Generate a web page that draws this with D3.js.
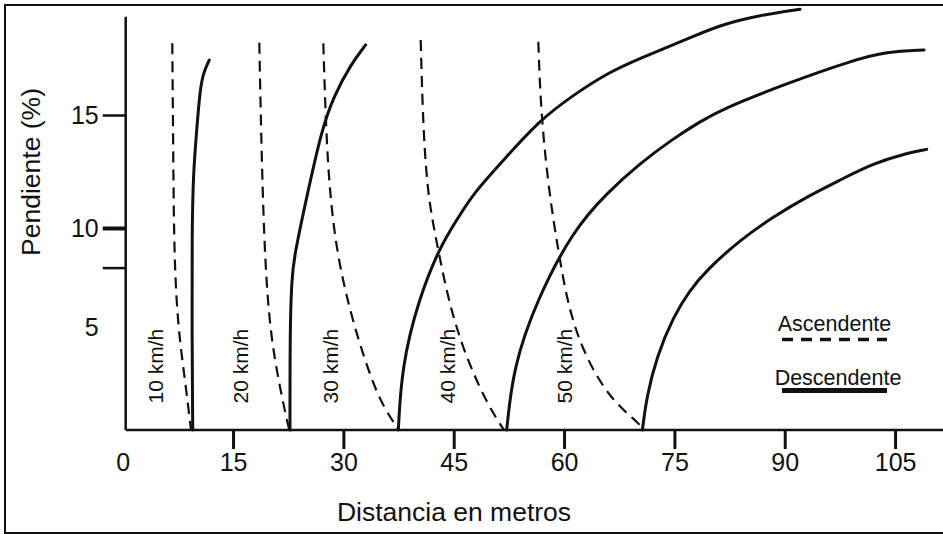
<!DOCTYPE html>
<html>
<head>
<meta charset="utf-8">
<script src="https://cdn.jsdelivr.net/npm/d3@7"></script>
<style>
  html, body { margin: 0; padding: 0; background: #fff; }
  svg { display: block; font-family: "Liberation Sans", Arial, Helvetica, sans-serif; }
</style>
</head>
<body>
<svg id="chart" width="943" height="534"></svg>
<script>
// ---------------- DATA ----------------
const speeds = ["10 km/h", "20 km/h", "30 km/h", "40 km/h", "50 km/h"];
const xTickValues = [0, 15, 30, 45, 60, 75, 90, 105];
const yTickLabels = [5, 10, 15];
const yTickMarks = [8, 10, 15];

// Ascendente (dashed): [distancia (m), pendiente (%)]
const asc10 = [[6.74,18.17],[6.88,12.88],[7.01,8.23],[7.56,4.85],[8.47,2.43],[9.24,0.16],[9.28,0]];
const asc20 = [[18.57,18.2],[18.90,12.88],[19.35,8.23],[20.03,4.85],[21.15,2.43],[22.51,0.16],[22.68,0]];
const asc30 = [[27.27,18.17],[27.64,14.34],[28.18,11.37],[29.31,8.23],[31.58,4.85],[33.85,2.43],[35.43,1.13],[37.25,0.16],[37.36,0]];
const asc40 = [[40.51,18.32],[40.86,14.2],[41.54,11.24],[42.90,8.89],[44.26,6.36],[46.30,3.88],[49.25,1.46],[51.52,0.16],[51.84,0]];
const asc50 = [[56.50,18.24],[56.87,14.92],[58.09,11.24],[59.22,8.89],[60.36,6.36],[62.40,3.88],[66.25,1.46],[70.56,0.24],[70.6,0]];

// Descendente (solid)
const desc10 = [[9.52,0],[9.42,4.85],[9.42,9.90],[9.60,12.43],[10.06,14.34],[10.51,16.11],[10.96,16.86],[11.77,17.43]];
const desc20 = [[22.74,0],[22.74,4.85],[22.97,7.37],[23.29,8.54],[25.01,11.37],[27.05,14.34],[28.63,15.80],[31.13,17.30],[33.03,18.10]];
const desc30 = [[37.47,0],[37.93,3.07],[40.18,6.36],[43.13,9.06],[45.41,10.35],[47.66,11.54],[52.20,13.16],[56.73,14.78],[61.26,15.88],[65.80,16.84],[70.32,17.51],[77.12,18.41],[81.20,18.98],[86.64,19.42],[92.08,19.68]];
const desc40 = [[52.20,0],[53.10,3.07],[56.28,6.36],[61.26,9.90],[65.80,11.54],[70.32,12.86],[74.85,13.96],[78.48,14.70],[81.20,15.22],[90.27,16.40],[99.32,17.43],[103.86,17.80],[108.93,17.88]];
const desc50 = [[70.65,0],[71.23,1.62],[72.59,3.56],[74.85,5.52],[77.12,6.87],[79.39,7.88],[83.92,9.39],[88.45,10.50],[92.99,11.38],[97.52,12.12],[102.04,12.86],[106.58,13.31],[109.30,13.48]];

const ascendente = [asc10, asc20, asc30, asc40, asc50];
const descendente = [desc10, desc20, desc30, desc40, desc50];

const legendLabels = ["Ascendente", "Descendente"];
const xTitle = "Distancia en metros";
const yTitle = "Pendiente (%)";

// ---------------- LAYOUT ----------------
const svg = d3.select("#chart");
const ink = "#111";

const x = d3.scaleLinear().domain([0, 111.5]).range([122.7, 942.9]);
const y = d3.scaleLinear().domain([0, 5, 10, 15]).range([430, 327, 228, 115]);
const yTop = 19.35;
const yAxisX = x(0) + 3;

// frame
svg.append("rect")
  .attr("x", 5).attr("y", 5).attr("width", 950).attr("height", 528)
  .attr("fill", "none").attr("stroke", ink).attr("stroke-width", 2);

// x axis
const xAxis = svg.append("g")
  .attr("transform", `translate(0,${y(0)})`)
  .call(d3.axisBottom(x).tickValues(xTickValues).tickSize(19).tickSizeOuter(0).tickPadding(4));
xAxis.select(".domain").remove();
xAxis.selectAll(".tick line").attr("stroke", ink).attr("stroke-width", 3)
  .filter(d => d === 0).remove();
xAxis.selectAll(".tick text").attr("fill", ink).attr("font-size", 25)
  .attr("font-family", "Liberation Sans, Arial, sans-serif");
svg.append("line")
  .attr("x1", yAxisX).attr("x2", 943).attr("y1", y(0)).attr("y2", y(0))
  .attr("stroke", ink).attr("stroke-width", 2.5);

// y axis line
svg.append("line")
  .attr("x1", yAxisX).attr("x2", yAxisX)
  .attr("y1", y(yTop)).attr("y2", y(0))
  .attr("stroke", ink).attr("stroke-width", 2.5);

// y tick marks
const yMarks = svg.append("g")
  .attr("transform", `translate(${yAxisX},0)`)
  .call(d3.axisLeft(y).tickValues(yTickMarks).tickSize(23).tickFormat(""));
yMarks.select(".domain").remove();
yMarks.selectAll(".tick line").attr("stroke", ink)
  .attr("stroke-width", d => d === 10 ? 4 : 2.5);

// y tick labels
const yLabels = svg.append("g")
  .attr("transform", `translate(${yAxisX},0)`)
  .call(d3.axisLeft(y).tickValues(yTickLabels).tickSize(0).tickPadding(27));
yLabels.select(".domain").remove();
yLabels.selectAll(".tick text").attr("fill", ink).attr("font-size", 25)
  .attr("font-family", "Liberation Sans, Arial, sans-serif");

// axis titles
svg.append("text")
  .attr("x", 454).attr("y", 521)
  .attr("text-anchor", "middle").attr("font-size", 26.5).attr("fill", ink)
  .text(xTitle);
svg.append("text")
  .attr("transform", `translate(40,172) rotate(-90)`)
  .attr("text-anchor", "middle").attr("font-size", 26.5).attr("fill", ink)
  .text(yTitle);

// curves
const line = d3.line().x(d => x(d[0])).y(d => y(d[1])).curve(d3.curveBasis);

svg.append("g").selectAll("path").data(ascendente).join("path")
  .attr("d", line).attr("fill", "none").attr("stroke", ink)
  .attr("stroke-width", 2.2).attr("stroke-dasharray", "11,7");

svg.append("g").selectAll("path").data(descendente).join("path")
  .attr("d", line).attr("fill", "none").attr("stroke", ink)
  .attr("stroke-width", 3).attr("stroke-linecap", "round");

// speed labels (annotation positions in data units)
const speedLabelX = [5.5, 17.05, 29.3, 45.2, 61.1];
const speedLabelY = 3.1;
svg.append("g").selectAll("text").data(speeds).join("text")
  .attr("transform", (d, i) => `translate(${x(speedLabelX[i])},${y(speedLabelY)}) rotate(-90)`)
  .attr("text-anchor", "middle").attr("font-size", 21).attr("fill", ink)
  .text(d => d);

// legend
const lg = svg.append("g");
lg.append("text").attr("x", 834.5).attr("y", 331)
  .attr("text-anchor", "middle").attr("font-size", 21.5).attr("fill", ink).text(legendLabels[0]);
lg.append("line").attr("x1", 782).attr("x2", 887).attr("y1", 339.5).attr("y2", 339.5)
  .attr("stroke", ink).attr("stroke-width", 3.5).attr("stroke-dasharray", "11,8");
lg.append("text").attr("x", 838).attr("y", 385)
  .attr("text-anchor", "middle").attr("font-size", 21.5).attr("fill", ink).text(legendLabels[1]);
lg.append("line").attr("x1", 782).attr("x2", 887).attr("y1", 390.5).attr("y2", 390.5)
  .attr("stroke", ink).attr("stroke-width", 5);
</script>
</body>
</html>
